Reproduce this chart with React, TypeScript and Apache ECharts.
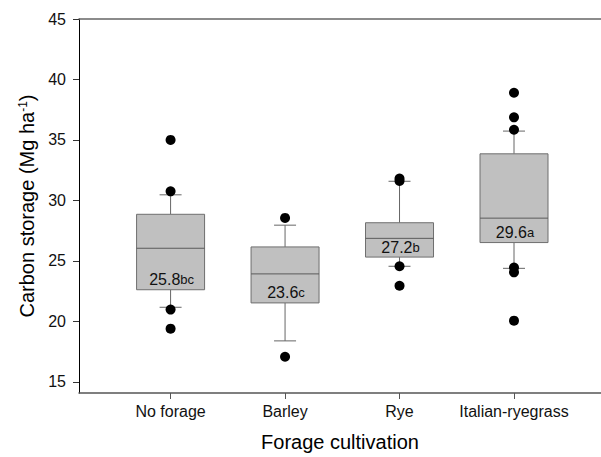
import React, { useEffect, useRef } from "react";
import * as echarts from "echarts";

const categories = ["No forage", "Barley", "Rye", "Italian-ryegrass"];
const whiskerLow = [21.16, 18.38, 24.55, 24.38];
const q1 = [22.61, 21.52, 25.31, 26.51];
const medians = [26.04, 23.92, 26.86, 28.53];
const q3 = [28.85, 26.15, 28.15, 33.85];
const whiskerHigh = [30.46, 27.95, 31.58, 35.73];
const means = [25.8, 23.6, 27.2, 29.6];
const letters = ["bc", "c", "b", "a"];
const outliers = [
  [35.0, 30.75, 20.97, 19.39],
  [28.55, 17.07],
  [31.8, 31.6, 24.55, 22.94],
  [38.9, 36.87, 35.84, 24.45, 24.05, 20.05],
];
const yTicks = [15, 20, 25, 30, 35, 40, 45];
const xPositions = [1, 2, 3, 4];

const FONT = "'Liberation Sans', Arial, sans-serif";

export default function App() {
  const ref = useRef<HTMLDivElement>(null);
  useEffect(() => {
    if (!ref.current) return;
    const chart = echarts.init(ref.current, null, { renderer: "svg" });
    const boxData = categories.map((_, i) => [
      xPositions[i],
      whiskerLow[i],
      q1[i],
      medians[i],
      q3[i],
      whiskerHigh[i],
      i,
    ]);
    const outlierData: number[][] = [];
    outliers.forEach((arr, i) => arr.forEach((v) => outlierData.push([xPositions[i], v])));

    const boxHalf = 34;
    const capHalf = 11;
    const renderItem = (params: any, api: any) => {
      const x = api.value(0);
      const idx = api.value(6);
      const pLow = api.coord([x, api.value(1)]);
      const pQ1 = api.coord([x, api.value(2)]);
      const pMed = api.coord([x, api.value(3)]);
      const pQ3 = api.coord([x, api.value(4)]);
      const pHigh = api.coord([x, api.value(5)]);
      const cx = pQ1[0];
      const lineStyle = { stroke: "#666666", lineWidth: 1 };
      return {
        type: "group",
        children: [
          { type: "line", shape: { x1: cx, y1: pQ3[1], x2: cx, y2: pHigh[1] }, style: lineStyle },
          { type: "line", shape: { x1: cx, y1: pQ1[1], x2: cx, y2: pLow[1] }, style: lineStyle },
          { type: "line", shape: { x1: cx - capHalf, y1: pHigh[1], x2: cx + capHalf, y2: pHigh[1] }, style: lineStyle },
          { type: "line", shape: { x1: cx - capHalf, y1: pLow[1], x2: cx + capHalf, y2: pLow[1] }, style: lineStyle },
          {
            type: "rect",
            shape: { x: cx - boxHalf, y: pQ3[1], width: boxHalf * 2, height: pQ1[1] - pQ3[1] },
            style: { fill: "#c0c0c0", stroke: "#6e6e6e", lineWidth: 1 },
          },
          { type: "line", shape: { x1: cx - boxHalf, y1: pMed[1], x2: cx + boxHalf, y2: pMed[1] }, style: { stroke: "#5a5a5a", lineWidth: 1 } },
          {
            type: "text",
            style: {
              text: `{m|${means[idx].toFixed(1)}}{l|${letters[idx]}}`,
              x: cx + 1,
              y: pQ1[1] - 1,
              align: "center",
              verticalAlign: "bottom",
              rich: {
                m: { fontSize: 16, lineHeight: 18, fontFamily: FONT, fill: "#111111", verticalAlign: "middle" },
                l: { fontSize: 13, lineHeight: 18, fontFamily: FONT, fill: "#111111", verticalAlign: "middle" },
              },
            },
          },
        ],
      };
    };

    chart.setOption({
      animation: false,
      backgroundColor: "#ffffff",
      grid: { left: 79, right: 0, top: 19, bottom: 60, containLabel: false },
      xAxis: [
        {
          type: "value",
          min: 0.2,
          max: 4.76,
          name: "Forage cultivation",
          nameLocation: "middle",
          nameGap: 39,
          nameTextStyle: { fontSize: 20, fontFamily: FONT, color: "#000000" },
          axisLine: { show: true, onZero: false, lineStyle: { color: "#555555", width: 1.5 } },
          axisTick: { show: true, length: 6, customValues: xPositions, lineStyle: { color: "#555555" } },
          axisLabel: {
            customValues: xPositions,
            margin: 10,
            fontSize: 16,
            fontFamily: FONT,
            color: "#111111",
            formatter: (v: number) => categories[Math.round(v) - 1] ?? "",
          },
          splitLine: { show: false },
        },
        {
          type: "value",
          position: "top",
          min: 0.2,
          max: 4.76,
          axisLine: { show: true, onZero: false, lineStyle: { color: "#666666", width: 1.5 } },
          axisTick: { show: false },
          axisLabel: { show: false },
          splitLine: { show: false },
        },
      ],
      yAxis: {
        type: "value",
        min: 14.07,
        max: 45,
        name: "{a|Carbon storage (Mg ha}{s|-1}{a|)}",
        nameLocation: "middle",
        nameGap: 42,
        nameTextStyle: {
          fontSize: 20,
          fontFamily: FONT,
          color: "#000000",
          rich: {
            a: { fontSize: 20, fontFamily: FONT, color: "#000000" },
            s: { fontSize: 12, fontFamily: FONT, color: "#000000", verticalAlign: "top" },
          },
        },
        axisLine: { show: true, onZero: false, lineStyle: { color: "#000000", width: 1 } },
        axisTick: { show: true, length: 6, customValues: yTicks, lineStyle: { color: "#333333" } },
        axisLabel: {
          customValues: yTicks,
          margin: 13,
          fontSize: 16,
          fontFamily: FONT,
          color: "#111111",
        },
        splitLine: { show: false },
      },
      series: [
        {
          type: "custom",
          renderItem,
          data: boxData,
          encode: { x: 0, y: [1, 2, 3, 4, 5] },
          clip: false,
          z: 2,
        },
        {
          type: "scatter",
          data: outlierData,
          symbol: "circle",
          symbolSize: 10,
          itemStyle: { color: "#000000", opacity: 1 },
          z: 5,
        },
      ],
    });
    return () => chart.dispose();
  }, []);
  return (
    <div
      ref={ref}
      style={{ position: "absolute", left: 0, top: 0, width: 601, height: 457, background: "#fff" }}
    />
  );
}
